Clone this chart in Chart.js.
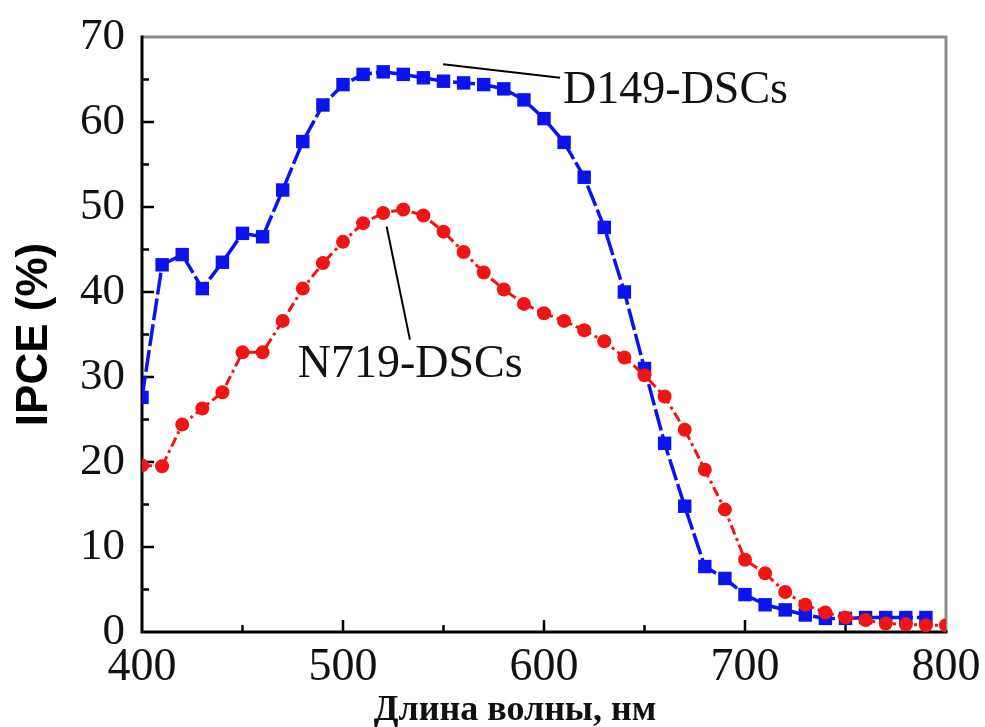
<!DOCTYPE html>
<html>
<head>
<meta charset="utf-8">
<script src="https://cdn.jsdelivr.net/npm/chart.js@4/dist/chart.umd.min.js"></script>
<style>
  html, body { margin: 0; padding: 0; background: #fff; }
  #wrap { width: 985px; height: 727px; }
</style>
</head>
<body>
<div id="wrap"><canvas id="ipceChart"></canvas></div>
<script>
// wavelength grid, nm
const wavelengths = [400, 410, 420, 430, 440, 450, 460, 470, 480, 490,
                     500, 510, 520, 530, 540, 550, 560, 570, 580, 590,
                     600, 610, 620, 630, 640, 650, 660, 670, 680, 690,
                     700, 710, 720, 730, 740, 750, 760, 770, 780, 790, 800];

// IPCE, %
const d149Ipce = [27.6, 43.2, 44.4, 40.4, 43.5, 46.9, 46.5, 52.0, 57.7, 62.0,
                  64.4, 65.6, 65.9, 65.6, 65.2, 64.8, 64.6, 64.4, 63.9, 62.6,
                  60.4, 57.6, 53.5, 47.6, 40.0, 31.0, 22.2, 14.8, 7.7, 6.3,
                  4.4, 3.2, 2.6, 2.0, 1.6, 1.6, 1.7, 1.7, 1.7, 1.7];
const n719Ipce = [19.6, 19.5, 24.4, 26.3, 28.2, 32.9, 32.9, 36.6, 40.4, 43.4,
                  45.9, 48.1, 49.3, 49.7, 49.0, 47.1, 44.7, 42.3, 40.3, 38.6,
                  37.5, 36.6, 35.5, 34.2, 32.3, 30.2, 27.7, 23.8, 19.1, 14.4,
                  8.5, 6.9, 4.7, 3.2, 2.3, 1.7, 1.4, 1.0, 0.9, 0.8, 0.8];

const xTicks = [400, 500, 600, 700, 800];
const yTicks = [0, 10, 20, 30, 40, 50, 60, 70];
const xTitle = "Длина волны, нм";

function toPoints(ys) {
    return ys.map((y, i) => ({ x: wavelengths[i], y: y }));
}

// curve labels with leader lines, in data units
const curveLabels = [
    { text: "D149-DSCs", from: [549.8, 66.8], to: [608, 65.2], at: [609.5, 62.2] },
    { text: "N719-DSCs", from: [521.7, 47.7], to: [533.3, 34.4], at: [477.5, 30.0] }
];

const serif = "'Liberation Serif', 'Times New Roman', serif";

// frame (black left/bottom, grey top/right) with inward ticks
const framePlugin = {
    id: "frame",
    beforeDatasetsDraw(chart) {
        const { ctx, chartArea: a, scales } = chart;
        ctx.save();
        ctx.lineCap = "butt";
        ctx.strokeStyle = "#8c8c8c";
        ctx.lineWidth = 3;
        ctx.beginPath();
        ctx.moveTo(a.left, a.top);
        ctx.lineTo(a.right, a.top);
        ctx.lineTo(a.right, a.bottom);
        ctx.stroke();

        ctx.strokeStyle = "#000";
        ctx.lineWidth = 3;
        ctx.beginPath();
        ctx.moveTo(a.left, a.top - 1.5);
        ctx.lineTo(a.left, a.bottom);
        ctx.lineTo(a.right + 1.5, a.bottom);
        ctx.stroke();

        ctx.lineWidth = 2.5;
        ctx.beginPath();
        for (let v = 5; v < 70; v += 5) {
            const py = scales.y.getPixelForValue(v);
            const len = v % 10 === 0 ? 12 : 7;
            ctx.moveTo(a.left, py);
            ctx.lineTo(a.left + len, py);
        }
        for (let v = 450; v < 800; v += 50) {
            const px = scales.x.getPixelForValue(v);
            const len = v % 100 === 0 ? 12 : 7;
            ctx.moveTo(px, a.bottom);
            ctx.lineTo(px, a.bottom - len);
        }
        ctx.stroke();
        ctx.restore();
    },
    afterDraw(chart) {
        const { ctx, scales } = chart;
        ctx.save();
        ctx.strokeStyle = "#000";
        ctx.lineWidth = 2;
        ctx.fillStyle = "#111";
        ctx.font = "46px " + serif;
        ctx.textAlign = "left";
        ctx.textBaseline = "alphabetic";
        curveLabels.forEach(l => {
            ctx.beginPath();
            ctx.moveTo(scales.x.getPixelForValue(l.from[0]), scales.y.getPixelForValue(l.from[1]));
            ctx.lineTo(scales.x.getPixelForValue(l.to[0]), scales.y.getPixelForValue(l.to[1]));
            ctx.stroke();
            ctx.fillText(l.text, scales.x.getPixelForValue(l.at[0]), scales.y.getPixelForValue(l.at[1]));
        });

        // x axis title, sits a bit left of the axis centre
        ctx.font = "bold 36px " + serif;
        ctx.textAlign = "center";
        ctx.fillText(xTitle, 515, 720);
        ctx.restore();
    }
};

const ctx = document.getElementById("ipceChart").getContext("2d");

new Chart(ctx, {
    type: "line",
    data: {
        datasets: [
            {
                label: "D149-DSCs",
                data: toPoints(d149Ipce),
                order: 1,
                borderColor: "#0a14f0",
                backgroundColor: "#0a14f0",
                borderWidth: 3.5,
                borderDash: [22, 4],
                pointStyle: "rect",
                pointRadius: 9.5,
                pointBorderWidth: 0,
                tension: 0
            },
            {
                label: "N719-DSCs",
                data: toPoints(n719Ipce),
                order: 0,
                borderColor: "#f01414",
                backgroundColor: "#f01414",
                borderWidth: 3,
                borderDash: [10, 4, 3, 4],
                pointStyle: "circle",
                pointRadius: 7,
                pointBorderWidth: 0,
                tension: 0
            }
        ]
    },
    options: {
        responsive: true,
        maintainAspectRatio: false,
        animation: false,
        events: [],
        layout: { padding: { left: 0, top: 37, right: 39, bottom: 0 } },
        plugins: {
            legend: { display: false },
            tooltip: { enabled: false }
        },
        scales: {
            x: {
                type: "linear",
                min: 400,
                max: 800,
                afterBuildTicks(axis) {
                    axis.ticks = xTicks.map(v => ({ value: v }));
                },
                afterFit(axis) {
                    axis.height = 95;
                    axis.paddingLeft = 0;
                    axis.paddingRight = 0;
                },
                grid: { display: false, drawTicks: false },
                border: { display: false },
                ticks: {
                    color: "#111",
                    padding: 8,
                    maxRotation: 0,
                    font: { family: serif, size: 46 }
                }
            },
            y: {
                min: 0,
                max: 70,
                afterBuildTicks(axis) {
                    axis.ticks = yTicks.map(v => ({ value: v }));
                },
                afterFit(axis) {
                    axis.width = 142;
                    axis.paddingTop = 0;
                    axis.paddingBottom = 0;
                },
                grid: { display: false, drawTicks: false },
                border: { display: false },
                ticks: {
                    color: "#111",
                    padding: 17,
                    font: { family: serif, size: 45 }
                },
                title: {
                    display: true,
                    text: "IPCE (%)",
                    color: "#000",
                    padding: { top: 8, bottom: 0 },
                    font: { family: "'Liberation Sans', Arial, sans-serif", size: 44, weight: "bold" }
                }
            }
        }
    },
    plugins: [framePlugin]
});
</script>
</body>
</html>
